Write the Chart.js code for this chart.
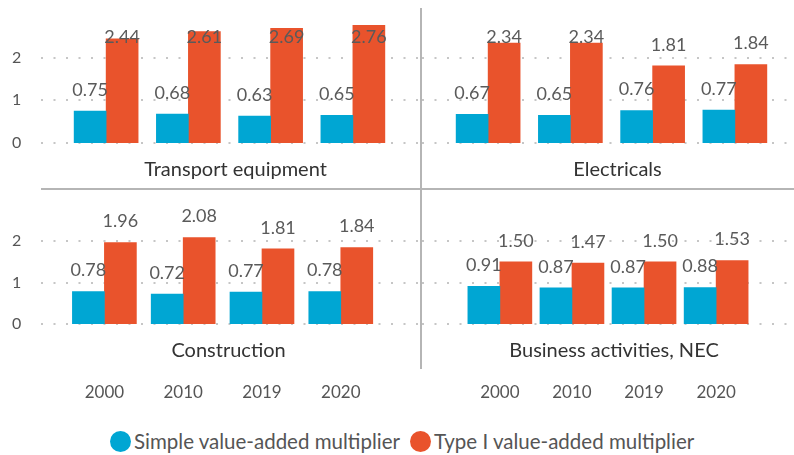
<!DOCTYPE html>
<html>
<head>
<meta charset="utf-8">
<script src="https://cdn.jsdelivr.net/npm/chart.js@4.4.1/dist/chart.umd.min.js"></script>
<style>
  body { margin: 0; background: #fff; width: 794px; height: 455px; position: relative; overflow: hidden; font-family: Lato, "Open Sans", sans-serif; }
  canvas { position: absolute; }
  #hline { position: absolute; left: 41px; top: 188px; width: 753px; height: 2px; background: #b5b5b5; }
  #vline { position: absolute; left: 420px; top: 8px; width: 2px; height: 361px; background: #b5b5b5; }
  #legend { position: absolute; left: 110px; top: 429px; display: flex; align-items: center; font-size: 20.5px; color: #555; white-space: nowrap; }
  #legend .dot { width: 21px; height: 21px; border-radius: 50%; display: inline-block; margin-right: 3px; }
  #legend .item { display: flex; align-items: center; margin-right: 10px; }
</style>
</head>
<body>
<canvas id="c0" width="422" height="189" style="left:0;top:0"></canvas>
<canvas id="c1" width="372" height="189" style="left:422px;top:0"></canvas>
<canvas id="c2" width="422" height="221" style="left:0;top:189px"></canvas>
<canvas id="c3" width="372" height="221" style="left:422px;top:189px"></canvas>
<div id="hline"></div>
<div id="vline"></div>
<div id="legend">
  <span class="item"><span class="dot" style="background:#00a6d3"></span>Simple value-added multiplier</span>
  <span class="item"><span class="dot" style="background:#e9532c"></span>Type I value-added multiplier</span>
</div>
<script>
const years = ['2000', '2010', '2019', '2020'];
const yTicks = [0, 1, 2];

const simpleTransport = [0.75, 0.68, 0.63, 0.65];
const typeITransport = [2.44, 2.61, 2.69, 2.76];
const simpleElectricals = [0.67, 0.65, 0.76, 0.77];
const typeIElectricals = [2.34, 2.34, 1.81, 1.84];
const simpleConstruction = [0.78, 0.72, 0.77, 0.78];
const typeIConstruction = [1.96, 2.08, 1.81, 1.84];
const simpleBusiness = [0.91, 0.87, 0.87, 0.88];
const typeIBusiness = [1.50, 1.47, 1.50, 1.53];

const BLUE = '#00a6d3', ORANGE = '#e9532c';

// dotted horizontal grid, wider than the bar area
const dotGrid = {
  id: 'dotGrid',
  beforeDatasetsDraw(chart, args, opts) {
    const ctx = chart.ctx, y = chart.scales.y;
    ctx.save();
    ctx.strokeStyle = '#c6c6c6';
    ctx.lineWidth = 2;
    ctx.setLineDash([2, 10.5]);
    yTicks.forEach(v => {
      const py = Math.round(y.getPixelForValue(v));
      ctx.beginPath();
      ctx.moveTo(opts.from, py);
      ctx.lineTo(opts.to, py);
      ctx.stroke();
    });
    ctx.restore();
  }
};

const valueLabels = {
  id: 'valueLabels',
  afterDatasetsDraw(chart, args, opts) {
    const ctx = chart.ctx;
    ctx.save();
    ctx.font = '18px Lato, "Open Sans", sans-serif';
    ctx.fillStyle = '#5a5a5a';
    ctx.textAlign = 'center';
    ctx.textBaseline = 'middle';
    chart.data.datasets.forEach((ds, i) => {
      chart.getDatasetMeta(i).data.forEach((bar, j) => {
        const y = Math.max(bar.y - 21, opts.minY);
        ctx.fillText(ds.data[j].toFixed(2), bar.x, y);
      });
    });
    ctx.restore();
  }
};

const panelTitle = {
  id: 'panelTitle',
  afterDraw(chart, args, opts) {
    const ctx = chart.ctx, a = chart.chartArea;
    ctx.save();
    ctx.font = '20px Lato, "Open Sans", sans-serif';
    ctx.fillStyle = '#333';
    ctx.textAlign = 'center';
    ctx.textBaseline = 'middle';
    ctx.fillText(opts.text, (a.left + a.right) / 2 + 6, a.bottom + 27);
    ctx.restore();
  }
};

function makePanel(id, title, simple, typeI, cfg) {
  new Chart(document.getElementById(id), {
    type: 'bar',
    data: {
      labels: years,
      datasets: [
        { label: 'Simple value-added multiplier', data: simple, backgroundColor: BLUE, barThickness: 32 },
        { label: 'Type I value-added multiplier', data: typeI, backgroundColor: ORANGE, barThickness: 32 }
      ]
    },
    plugins: [dotGrid, valueLabels, panelTitle],
    options: {
      responsive: false,
      animation: false,
      devicePixelRatio: 1,
      layout: { padding: cfg.padding },
      plugins: {
        legend: { display: false },
        tooltip: { enabled: false },
        dotGrid: { from: cfg.gridFrom, to: cfg.gridTo },
        valueLabels: { minY: cfg.labelMinY },
        panelTitle: { text: title }
      },
      scales: {
        x: {
          display: cfg.showX,
          grid: { display: false, drawTicks: false },
          border: { display: false },
          ticks: { color: '#555', font: { family: 'Lato', size: 17 }, padding: 58, maxRotation: 0 },
          afterFit: s => { if (cfg.showX) s.height = 86; }
        },
        y: {
          display: cfg.showY,
          min: 0,
          max: 3,
          afterBuildTicks: s => { s.ticks = yTicks.map(v => ({ value: v })); },
          grid: { display: false, drawTicks: false },
          border: { display: false },
          ticks: { color: '#555', font: { family: 'Lato', size: 16 }, padding: 0, crossAlign: 'far' },
          afterFit: s => { if (cfg.showY) s.width = 53; }
        }
      }
    }
  });
}

makePanel('c0', 'Transport equipment', simpleTransport, typeITransport,
  { padding: { left: 12, right: 28, top: 15, bottom: 46 }, showX: false, showY: true, gridFrom: 41, gridTo: 422, labelMinY: 37 });
makePanel('c1', 'Electricals', simpleElectricals, typeIElectricals,
  { padding: { left: 25, right: 18, top: 15, bottom: 46 }, showX: false, showY: false, gridFrom: 0, gridTo: 366, labelMinY: 37 });
makePanel('c2', 'Construction', simpleConstruction, typeIConstruction,
  { padding: { left: 12, right: 28, top: 10.5, bottom: 0 }, showX: true, showY: true, gridFrom: 41, gridTo: 422, labelMinY: 0 });
makePanel('c3', 'Business activities, NEC', simpleBusiness, typeIBusiness,
  { padding: { left: 25, right: 18, top: 10.5, bottom: 0 }, showX: true, showY: false, gridFrom: 0, gridTo: 366, labelMinY: 0 });
</script>
</body>
</html>
